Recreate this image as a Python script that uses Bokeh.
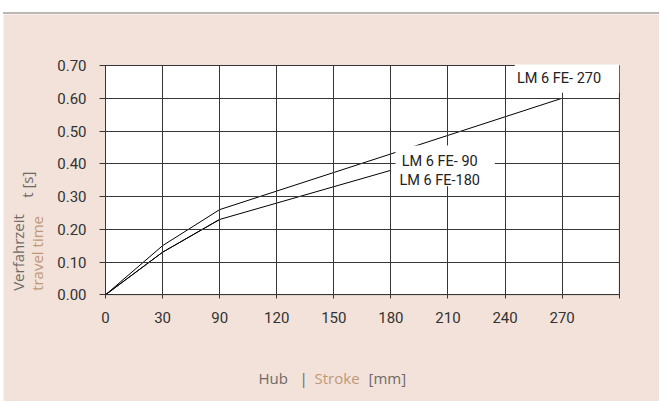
from bokeh.plotting import figure
from bokeh.models import FixedTicker, Label, BoxAnnotation, Range1d, PrintfTickFormatter
from bokeh.embed import file_html
from bokeh.resources import INLINE
import math

# ---- data ----
stroke_labels = ["0", "30", "90", "120", "150", "180", "210", "240", "270"]
time_ticks = [0.0, 0.1, 0.2, 0.3, 0.4, 0.5, 0.6, 0.7]

fe270_stroke = ["0", "30", "90", "270"]
fe270_time = [0.0, 0.15, 0.26, 0.60]

fe180_stroke = ["0", "30", "90", "180"]
fe180_time = [0.0, 0.13, 0.23, 0.38]

fe90_stroke = ["0", "30", "90"]
fe90_time = [0.0, 0.13, 0.23]

series_names = ["LM 6 FE- 270", "LM 6 FE- 90", "LM 6 FE-180"]

# ---- styles ----
BG = "#f2e2d9"
GRID = "#363636"
GRAY = "#6e6a68"
TAN = "#bf9878"
NARROW = "Roboto"
OPEN = "Open Sans"

pos = {s: i for i, s in enumerate(stroke_labels)}
n_cols = len(stroke_labels)  # one empty column after the last label
t_max = time_ticks[-1]

W, H = 656, 389
PX_X = 57.08   # pixels per stroke column
PX_Y = 327.6   # pixels per 1 s
p = figure(width=W, height=H,
           x_range=Range1d(-102 / PX_X, (W - 102) / PX_X),
           y_range=Range1d(-(H - 280.3) / PX_Y, 280.3 / PX_Y),
           output_backend="svg", toolbar_location=None,
           min_border=0)
p.styles = {"margin-top": "12px", "margin-left": "3px", "border-top": "2px solid #bdb7b3"}

p.background_fill_color = BG
p.border_fill_color = BG
p.outline_line_color = None
p.grid.visible = False

# white plot area with frame
p.add_layout(BoxAnnotation(left=0, right=n_cols, bottom=0, top=t_max, level="underlay",
                           fill_color="white", fill_alpha=1.0, line_color=GRID, line_width=1))

# x axis (ticks extended across the plot as grid lines)
p.xaxis.fixed_location = 0
p.xaxis.bounds = (0, n_cols)
p.xaxis.ticker = FixedTicker(ticks=list(range(n_cols + 1)))
overrides = {i: s for i, s in enumerate(stroke_labels)}
overrides[n_cols] = ""
p.xaxis.major_label_overrides = overrides
p.xaxis.major_tick_out = 4
p.xaxis.major_tick_in = round(t_max * PX_Y)
p.xaxis.major_label_standoff = 13

# y axis
p.yaxis.fixed_location = 0
p.yaxis.bounds = (0, t_max)
p.yaxis.ticker = FixedTicker(ticks=time_ticks)
p.yaxis.formatter = PrintfTickFormatter(format="%.2f")
p.yaxis.major_tick_out = 6
p.yaxis.major_tick_in = round(n_cols * PX_X)
p.yaxis.major_label_standoff = 13

for ax in (p.xaxis, p.yaxis):
    ax.minor_tick_line_color = None
    ax.axis_line_color = GRID
    ax.major_tick_line_color = GRID
    ax.major_label_text_font = NARROW
    ax.major_label_text_font_size = "15px"
    ax.major_label_text_color = "#333333"

# series
for xs, ys in ((fe270_stroke, fe270_time), (fe180_stroke, fe180_time), (fe90_stroke, fe90_time)):
    p.line([pos[s] for s in xs], ys, line_color="black", line_width=1)

# white label boxes
for l, r, b, t in ((7.17, 9.0, 0.617, 0.703), (5.08, 6.82, 0.373, 0.456), (5.03, 6.57, 0.331, 0.38)):
    p.add_layout(BoxAnnotation(left=l, right=r, bottom=b, top=t,
                               fill_color="white", fill_alpha=1.0, line_alpha=0))

# series labels
for name, x, y in ((series_names[0], 7.21, 0.660), (series_names[1], 5.19, 0.406), (series_names[2], 5.15, 0.350)):
    p.add_layout(Label(x=x, y=y, text=name, text_font=NARROW, text_font_size="14.5px",
                       text_color="#222222", text_align="left", text_baseline="alphabetic"))

# y title
for txt, x, y, col in (("Verfahrzeit", -1.53, 0.012, GRAY), ("travel time", -1.196, 0.012, TAN),
                       ("t [s]", -1.38, 0.296, GRAY)):
    p.add_layout(Label(x=x, y=y, text=txt, angle=math.pi / 2,
                       text_font=OPEN, text_font_size="15px", text_color=col,
                       text_align="left", text_baseline="alphabetic"))

# x title
for txt, x, col in (("Hub", 2.681, GRAY), ("|", 3.399, GRAY), ("Stroke", 3.662, TAN), ("[mm]", 4.608, GRAY)):
    p.add_layout(Label(x=x, y=-0.2527, text=txt,
                       text_font=OPEN, text_font_size="15px", text_color=col,
                       text_align="left", text_baseline="alphabetic"))

open("out.html", "w").write(file_html(p, INLINE))
